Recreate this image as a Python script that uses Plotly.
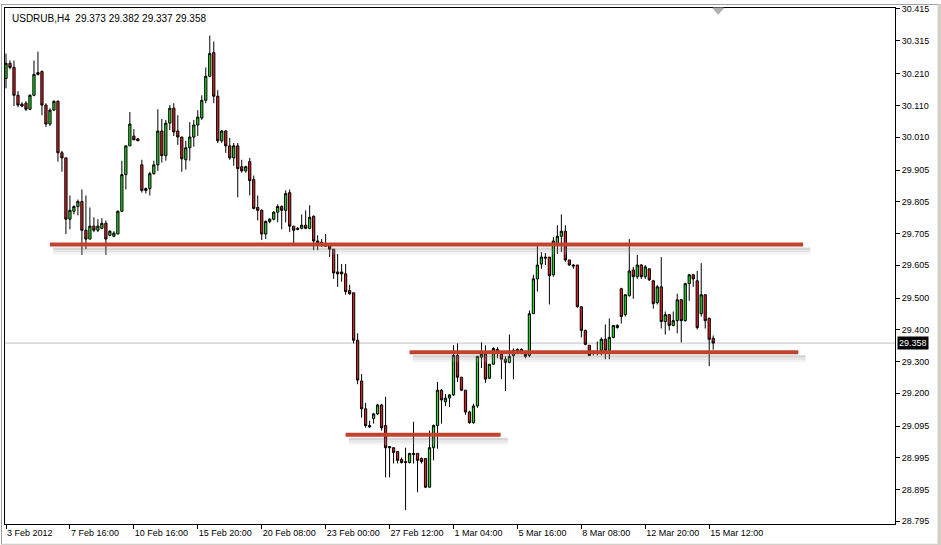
import plotly.graph_objects as go

# ---------------- data ----------------
symbol_header = "USDRUB,H4  29.373 29.382 29.337 29.358"
last_price = 29.358

open_ = [30.195, 30.243, 30.230, 30.142, 30.114, 30.117, 30.098, 30.142, 30.214, 30.217,
         30.111, 30.051, 30.095, 30.123, 29.960, 29.944, 29.750, 29.775, 29.790, 29.806,
         29.715, 29.687, 29.728, 29.715, 29.721, 29.737, 29.699, 29.696, 29.703, 29.775,
         29.891, 29.982, 30.013, 30.004, 29.922, 29.847, 29.847, 29.894, 29.922, 30.029,
         29.951, 30.054, 30.101, 30.029, 30.010, 29.938, 29.976, 30.010, 30.048, 30.070,
         30.126, 30.202, 30.277, 30.139, 29.998, 30.029, 29.982, 29.944, 29.982, 29.916,
         29.903, 29.932, 29.875, 29.787, 29.778, 29.703, 29.743, 29.750, 29.772, 29.790,
         29.778, 29.834, 29.728, 29.721, 29.721, 29.731, 29.721, 29.759, 29.681, 29.677,
         29.668, 29.665, 29.655, 29.583, 29.583, 29.577, 29.524, 29.517, 29.367, 29.238,
         29.150, 29.097, 29.119, 29.134, 29.162, 29.097, 29.031, 29.027, 29.015, 28.990,
         28.983, 28.980, 29.005, 29.009, 28.993, 28.993, 28.902, 29.027, 29.097, 29.209,
         29.172, 29.184, 29.194, 29.319, 29.250, 29.209, 29.140, 29.106, 29.159, 29.313,
         29.323, 29.247, 29.291, 29.338, 29.323, 29.307, 29.297, 29.319, 29.332, 29.332,
         29.323, 29.319, 29.451, 29.561, 29.608, 29.630, 29.630, 29.574, 29.674, 29.696,
         29.712, 29.621, 29.605, 29.605, 29.473, 29.398, 29.351, 29.329, 29.332, 29.335,
         29.370, 29.335, 29.376, 29.407, 29.530, 29.448, 29.508, 29.589, 29.568, 29.605,
         29.568, 29.593, 29.555, 29.486, 29.536, 29.426, 29.448, 29.414, 29.429, 29.495,
         29.429, 29.546, 29.574, 29.555, 29.451, 29.511, 29.436, 29.373]

high = [30.274, 30.252, 30.252, 30.155, 30.120, 30.123, 30.145, 30.252, 30.280, 30.221,
        30.117, 30.101, 30.126, 30.126, 29.966, 29.944, 29.825, 29.794, 29.812, 29.844,
        29.825, 29.787, 29.756, 29.750, 29.753, 29.746, 29.715, 29.712, 29.778, 29.935,
        29.982, 30.089, 30.035, 30.007, 29.938, 29.850, 29.900, 29.935, 30.098, 30.067,
        30.064, 30.111, 30.117, 30.079, 30.010, 29.998, 30.057, 30.064, 30.095, 30.142,
        30.230, 30.331, 30.312, 30.158, 30.032, 30.032, 30.007, 29.991, 29.991, 29.938,
        29.919, 29.944, 29.888, 29.825, 29.781, 29.746, 29.753, 29.775, 29.797, 29.794,
        29.841, 29.844, 29.728, 29.725, 29.765, 29.778, 29.794, 29.762, 29.699, 29.687,
        29.703, 29.665, 29.655, 29.640, 29.608, 29.608, 29.542, 29.517, 29.389, 29.260,
        29.169, 29.112, 29.137, 29.166, 29.166, 29.188, 29.031, 29.027, 29.015, 28.996,
        29.027, 29.009, 29.109, 29.009, 28.996, 28.993, 29.081, 29.100, 29.235, 29.213,
        29.197, 29.197, 29.351, 29.357, 29.250, 29.209, 29.144, 29.166, 29.316, 29.360,
        29.351, 29.291, 29.345, 29.345, 29.326, 29.316, 29.385, 29.341, 29.341, 29.341,
        29.332, 29.461, 29.574, 29.668, 29.646, 29.643, 29.630, 29.693, 29.731, 29.765,
        29.731, 29.621, 29.608, 29.605, 29.473, 29.401, 29.351, 29.335, 29.363, 29.376,
        29.417, 29.436, 29.414, 29.417, 29.533, 29.511, 29.687, 29.599, 29.637, 29.608,
        29.605, 29.593, 29.558, 29.542, 29.630, 29.458, 29.448, 29.458, 29.514, 29.498,
        29.549, 29.577, 29.577, 29.586, 29.611, 29.511, 29.439, 29.382]

low = [30.164, 30.224, 30.108, 30.104, 30.104, 30.092, 30.095, 30.139, 30.205, 30.079,
       30.042, 30.045, 30.092, 29.932, 29.900, 29.703, 29.718, 29.765, 29.762, 29.637,
       29.655, 29.687, 29.709, 29.709, 29.718, 29.637, 29.696, 29.693, 29.703, 29.772,
       29.844, 29.982, 30.001, 29.998, 29.834, 29.831, 29.825, 29.891, 29.903, 29.929,
       29.935, 30.032, 30.013, 29.985, 29.900, 29.907, 29.935, 29.979, 30.013, 30.064,
       30.117, 30.199, 30.117, 29.991, 29.991, 29.960, 29.938, 29.919, 29.819, 29.897,
       29.897, 29.825, 29.781, 29.746, 29.684, 29.687, 29.737, 29.746, 29.740, 29.718,
       29.740, 29.709, 29.674, 29.715, 29.718, 29.718, 29.718, 29.652, 29.652, 29.662,
       29.662, 29.630, 29.561, 29.536, 29.552, 29.511, 29.511, 29.357, 29.228, 29.122,
       29.090, 29.090, 29.103, 29.131, 29.081, 28.933, 28.933, 28.977, 28.977, 28.977,
       28.830, 28.977, 28.977, 28.886, 28.977, 28.899, 28.902, 28.987, 29.024, 29.103,
       29.159, 29.156, 29.191, 29.235, 29.206, 29.131, 29.103, 29.103, 29.153, 29.279,
       29.232, 29.244, 29.291, 29.310, 29.244, 29.206, 29.294, 29.244, 29.323, 29.323,
       29.310, 29.313, 29.451, 29.521, 29.593, 29.605, 29.480, 29.568, 29.640, 29.646,
       29.615, 29.602, 29.593, 29.470, 29.376, 29.351, 29.319, 29.319, 29.319, 29.319,
       29.307, 29.307, 29.373, 29.404, 29.420, 29.442, 29.505, 29.498, 29.561, 29.561,
       29.561, 29.555, 29.467, 29.480, 29.404, 29.385, 29.398, 29.411, 29.389, 29.360,
       29.426, 29.492, 29.536, 29.401, 29.442, 29.404, 29.285, 29.337]

close = [30.243, 30.230, 30.142, 30.111, 30.108, 30.098, 30.142, 30.208, 30.208, 30.111,
         30.051, 30.095, 30.123, 29.960, 29.944, 29.750, 29.778, 29.790, 29.806, 29.715,
         29.687, 29.728, 29.715, 29.728, 29.737, 29.687, 29.712, 29.706, 29.775, 29.891,
         29.982, 30.051, 30.001, 29.998, 29.841, 29.841, 29.894, 29.922, 30.029, 29.951,
         30.054, 30.101, 30.026, 30.010, 29.941, 29.976, 30.010, 30.048, 30.073, 30.126,
         30.202, 30.274, 30.139, 29.998, 30.029, 29.982, 29.944, 29.982, 29.910, 29.903,
         29.916, 29.872, 29.784, 29.778, 29.703, 29.743, 29.750, 29.772, 29.790, 29.778,
         29.831, 29.728, 29.715, 29.718, 29.731, 29.721, 29.756, 29.681, 29.674, 29.671,
         29.665, 29.655, 29.580, 29.577, 29.577, 29.521, 29.514, 29.367, 29.241, 29.150,
         29.097, 29.093, 29.134, 29.162, 29.090, 29.027, 29.027, 29.012, 28.987, 28.980,
         28.980, 29.009, 29.009, 28.987, 28.983, 28.902, 29.027, 29.097, 29.209, 29.178,
         29.184, 29.194, 29.319, 29.250, 29.209, 29.140, 29.106, 29.159, 29.316, 29.323,
         29.244, 29.291, 29.341, 29.329, 29.307, 29.297, 29.316, 29.335, 29.338, 29.338,
         29.316, 29.451, 29.561, 29.605, 29.630, 29.627, 29.571, 29.681, 29.696, 29.712,
         29.621, 29.605, 29.602, 29.473, 29.398, 29.354, 29.319, 29.326, 29.329, 29.370,
         29.335, 29.376, 29.414, 29.414, 29.442, 29.511, 29.586, 29.568, 29.605, 29.568,
         29.599, 29.558, 29.483, 29.536, 29.426, 29.448, 29.414, 29.429, 29.495, 29.429,
         29.546, 29.574, 29.561, 29.407, 29.511, 29.429, 29.370, 29.358]

bar_index = list(range(len(open_)))

tick_bars = [0, 16, 32, 48, 64, 80, 96, 112, 128, 144, 160, 176]
tick_labels = ["3 Feb 2012", "7 Feb 16:00", "10 Feb 16:00", "15 Feb 20:00", "20 Feb 08:00",
               "23 Feb 00:00", "27 Feb 12:00", "1 Mar 04:00", "5 Mar 16:00", "8 Mar 08:00",
               "12 Mar 20:00", "15 Mar 12:00"]

price_ticks = [30.415, 30.315, 30.210, 30.110, 30.010, 29.905, 29.805, 29.705, 29.605,
               29.500, 29.400, 29.300, 29.200, 29.095, 28.995, 28.895, 28.795]

# horizontal support / resistance lines drawn on the chart
level_prices = [29.670, 29.329, 29.068]
level_start_bar = [11, 101, 85]
level_end_bar = [199.5, 198.3, 123.8]

# ---------------- style ----------------
W, H = 941, 545
ML, MR, MT, MB = 4, 46, 4, 21
PX_PER_PRICE = 318.5
GREEN = "#22DD22"
RED = "#E02020"
LEVEL_COLOR = "#C1432E"
FONT = "Liberation Sans, Arial, sans-serif"

fig = go.Figure()
fig.add_trace(go.Candlestick(
    x=bar_index, open=open_, high=high, low=low, close=close,
    increasing=dict(fillcolor=GREEN, line=dict(color="black", width=1)),
    decreasing=dict(fillcolor=RED, line=dict(color="black", width=1)),
    whiskerwidth=0, showlegend=False, hoverinfo="skip",
))

shapes = []
# current bid line
shapes.append(dict(type="line", xref="paper", yref="y", x0=0, x1=1,
                   y0=last_price, y1=last_price, layer="below",
                   line=dict(color="#C0C0C0", width=1)))

# level lines with soft shadow
px = 1.0 / PX_PER_PRICE
for p, s, e in zip(level_prices, level_start_bar, level_end_bar):
    for off, wdt, col in [(4.0, 2, "rgba(120,120,120,0.30)"),
                          (6.0, 3, "rgba(150,150,150,0.22)"),
                          (8.5, 3, "rgba(190,190,190,0.18)")]:
        shapes.append(dict(type="line", xref="x", yref="y",
                           x0=s + 0.8, x1=e + 1.8, y0=p - off * px, y1=p - off * px,
                           line=dict(color=col, width=wdt)))
    shapes.append(dict(type="line", xref="x", yref="y", x0=s, x1=e, y0=p, y1=p,
                       line=dict(color=LEVEL_COLOR, width=4)))

# chart-shift marker (small grey triangle at the top)
shapes.append(dict(type="path", xref="x", yref="paper",
                   path="M 176.9,1 L 179.6,1 L 178.25,0.988 Z",
                   fillcolor="#B0B0B0", line=dict(color="#B0B0B0", width=1)))

# window frame (outside the plot area)
pw = W - ML - MR
ph = H - MT - MB
fx0, fx1 = -ML / pw, 1 + (MR - 0.5) / pw
fy0, fy1 = -(MB - 0.5) / ph, 1 + MT / ph
shapes.append(dict(type="line", xref="paper", yref="paper", x0=fx0 + 0.5 / pw, x1=fx0 + 0.5 / pw,
                   y0=fy0, y1=fy1, line=dict(color="#A0A0A0", width=1)))
shapes.append(dict(type="line", xref="paper", yref="paper", x0=fx0, x1=fx1,
                   y0=fy1 - 0.5 / ph, y1=fy1 - 0.5 / ph, line=dict(color="#A0A0A0", width=1)))
shapes.append(dict(type="line", xref="paper", yref="paper", x0=fx0, x1=fx1 + 1 / pw,
                   y0=fy0 - 1.5 / ph, y1=fy0 - 1.5 / ph, line=dict(color="#D4D0C8", width=4)))
shapes.append(dict(type="line", xref="paper", yref="paper", x0=fx1 - 1 / pw, x1=fx1 - 1 / pw,
                   y0=fy0 - 2 / ph, y1=fy1, line=dict(color="#D4D0C8", width=4)))

annotations = [
    dict(xref="paper", yref="paper", x=0, y=1, xshift=5, yshift=-3,
         xanchor="left", yanchor="top", showarrow=False, text=symbol_header,
         font=dict(family=FONT, size=10, color="black")),
    dict(xref="paper", yref="y", x=1, y=last_price, xshift=2, xanchor="left",
         yanchor="middle", showarrow=False, text=f"{last_price:.3f}",
         bgcolor="black", borderpad=1,
         font=dict(family=FONT, size=9, color="white")),
]

y_lo = price_ticks[-1] - 3 / PX_PER_PRICE
y_hi = price_ticks[0] + 1 / PX_PER_PRICE

fig.update_layout(
    width=W, height=H,
    margin=dict(l=ML, r=MR, t=MT, b=MB, pad=0),
    paper_bgcolor="white", plot_bgcolor="white",
    font=dict(family=FONT, size=9, color="black"),
    shapes=shapes, annotations=annotations,
    boxgap=0.2,
    xaxis=dict(range=[-0.25, -0.25 + pw / 4.0], rangeslider=dict(visible=False),
               tickmode="array", tickvals=tick_bars, ticktext=tick_labels,
               ticks="outside", ticklen=4, tickcolor="black", tickwidth=1,
               ticklabelposition="outside right",
               showline=True, linecolor="black", linewidth=1, mirror=True,
               showgrid=False, zeroline=False, fixedrange=True),
    yaxis=dict(range=[y_lo, y_hi], side="right",
               tickmode="array", tickvals=price_ticks,
               ticktext=[f"{v:.3f}" for v in price_ticks],
               ticks="outside", ticklen=4, tickcolor="black", tickwidth=1,
               showline=True, linecolor="black", linewidth=1, mirror=True,
               showgrid=False, zeroline=False, fixedrange=True),
    hovermode=False,
)

fig.write_html("out.html", config={"displayModeBar": False},
               post_script="document.body.style.margin='0';")
